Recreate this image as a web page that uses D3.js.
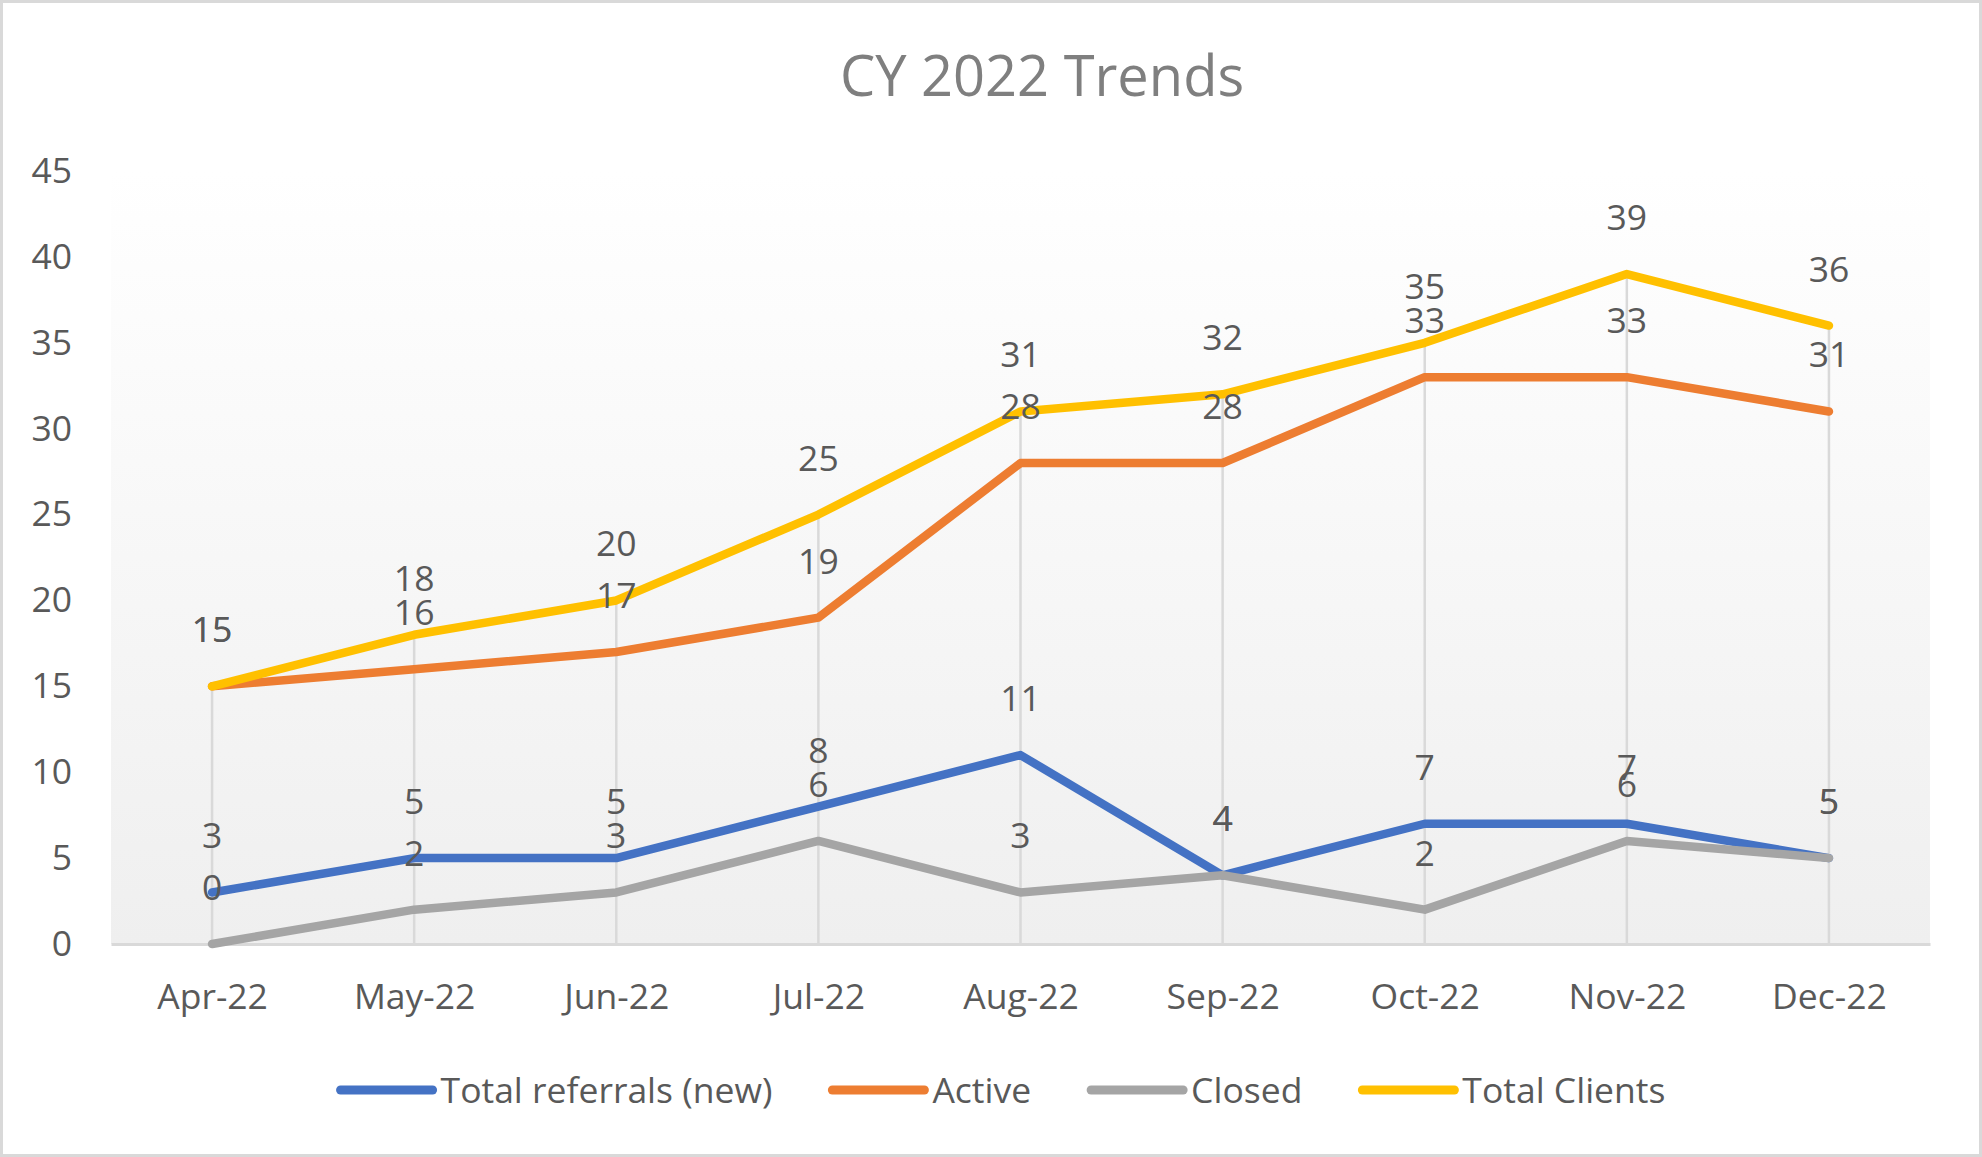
<!DOCTYPE html>
<html>
<head>
<meta charset="utf-8">
<title>CY 2022 Trends</title>
<script src="https://cdnjs.cloudflare.com/ajax/libs/d3/7.8.5/d3.min.js"></script>
<style>
  html, body { margin: 0; padding: 0; background: #fff; }
  svg text { font-family: "Open Sans", Lato, sans-serif; }
</style>
</head>
<body>
<div id="chart"></div>
<script>
// chart data
var months = ['Apr-22', 'May-22', 'Jun-22', 'Jul-22', 'Aug-22', 'Sep-22', 'Oct-22', 'Nov-22', 'Dec-22'];
var referrals = [3, 5, 5, 8, 11, 4, 7, 7, 5];
var active = [15, 16, 17, 19, 28, 28, 33, 33, 31];
var closedCases = [0, 2, 3, 6, 3, 4, 2, 6, 5];
var totalClients = [15, 18, 20, 25, 31, 32, 35, 39, 36];
var yTicks = [0, 5, 10, 15, 20, 25, 30, 35, 40, 45];
var seriesNames = ['Total referrals (new)', 'Active', 'Closed', 'Total Clients'];

(function(){
  'use strict';

  var width = 1982, height = 1157;
  var plot = { left: 111, right: 1930, top: 171, bottom: 944 };
  var colors = ['#4472c4', '#ed7d31', '#a5a5a5', '#ffc000'];
  var textColor = '#595959';
  var fontSize = 35.5;

  var series = [referrals, active, closedCases, totalClients].map(function (values, i) {
    return { name: seriesNames[i], values: values, color: colors[i] };
  });

  var svg = d3.select('#chart').append('svg')
    .attr('width', width)
    .attr('height', height);

  var grad = svg.append('defs').append('linearGradient')
    .attr('id', 'plotFill')
    .attr('x1', 0).attr('y1', 0)
    .attr('x2', 0).attr('y2', 1);
  grad.append('stop').attr('offset', '0%').attr('stop-color', '#ffffff');
  grad.append('stop').attr('offset', '100%').attr('stop-color', '#efefef');

  // chart border
  svg.append('rect')
    .attr('x', 1.5).attr('y', 1.5)
    .attr('width', width - 3).attr('height', height - 3)
    .attr('fill', '#fff')
    .attr('stroke', '#d9d9d9')
    .attr('stroke-width', 3);

  var x = d3.scalePoint().domain(months).range([plot.left, plot.right]).padding(0.5);
  var y = d3.scaleLinear().domain([0, 45]).range([plot.bottom, plot.top]);

  svg.append('rect')
    .attr('x', plot.left).attr('y', plot.top)
    .attr('width', plot.right - plot.left).attr('height', plot.bottom - plot.top)
    .attr('fill', 'url(#plotFill)');

  // title
  svg.append('text')
    .attr('x', 1042).attr('y', 96)
    .attr('text-anchor', 'middle')
    .attr('font-size', 56)
    .attr('fill', '#7f7f7f')
    .text('CY 2022 Trends');

  // drop lines from the highest point down to the axis
  svg.append('g').selectAll('line')
    .data(months)
    .enter().append('line')
    .attr('x1', function (d) { return x(d); })
    .attr('x2', function (d) { return x(d); })
    .attr('y1', function (d, i) { return y(d3.max(series, function (s) { return s.values[i]; })); })
    .attr('y2', y(0))
    .attr('stroke', '#d9d9d9')
    .attr('stroke-width', 2.5);

  // axes
  var yAxis = svg.append('g')
    .attr('transform', 'translate(' + plot.left + ',0)')
    .call(d3.axisLeft(y).tickValues(yTicks).tickSize(0).tickPadding(39));
  yAxis.select('.domain').remove();

  var xAxis = svg.append('g')
    .attr('transform', 'translate(0,' + plot.bottom + ')')
    .call(d3.axisBottom(x).tickSize(0).tickSizeOuter(0).tickPadding(40));
  xAxis.select('.domain')
    .attr('stroke', '#d9d9d9')
    .attr('stroke-width', 3);

  svg.selectAll('.tick text')
    .attr('font-family', null)
    .attr('font-size', fontSize)
    .attr('fill', textColor);

  // lines
  var line = d3.line()
    .x(function (d, i) { return x(months[i]); })
    .y(function (d) { return y(d); });

  svg.append('g').selectAll('path')
    .data(series)
    .enter().append('path')
    .attr('d', function (s) { return line(s.values); })
    .attr('fill', 'none')
    .attr('stroke', function (s) { return s.color; })
    .attr('stroke-width', 8.5)
    .attr('stroke-linecap', 'round')
    .attr('stroke-linejoin', 'round');

  // data labels above points
  var labelGroups = svg.append('g').selectAll('g')
    .data(series)
    .enter().append('g');

  labelGroups.selectAll('text')
    .data(function (s) { return s.values; })
    .enter().append('text')
    .attr('x', function (d, i) { return x(months[i]); })
    .attr('y', function (d) { return y(d) - 44; })
    .attr('text-anchor', 'middle')
    .attr('font-size', fontSize)
    .attr('fill', textColor)
    .text(function (d) { return d; });

  // legend
  var legend = svg.append('g').attr('class', 'legend');
  var lineLen = 92, textGap = 8, itemGap = 60, legendY = 1090;
  var items = legend.selectAll('g')
    .data(series)
    .enter().append('g');

  items.append('line')
    .attr('x1', 0).attr('x2', lineLen)
    .attr('y1', 0).attr('y2', 0)
    .attr('stroke', function (s) { return s.color; })
    .attr('stroke-width', 9)
    .attr('stroke-linecap', 'round');

  items.append('text')
    .attr('x', lineLen + textGap)
    .attr('y', 13)
    .attr('font-size', fontSize)
    .attr('fill', textColor)
    .text(function (s) { return s.name; });

  var offset = 0, offsets = [];
  items.each(function () {
    offsets.push(offset);
    offset += this.getBBox().width + itemGap;
  });
  var legendWidth = offset - itemGap;
  var startX = 1003 - legendWidth / 2;
  items.attr('transform', function (s, i) {
    return 'translate(' + (startX + offsets[i]) + ',' + legendY + ')';
  });

})();
</script>
</body>
</html>
